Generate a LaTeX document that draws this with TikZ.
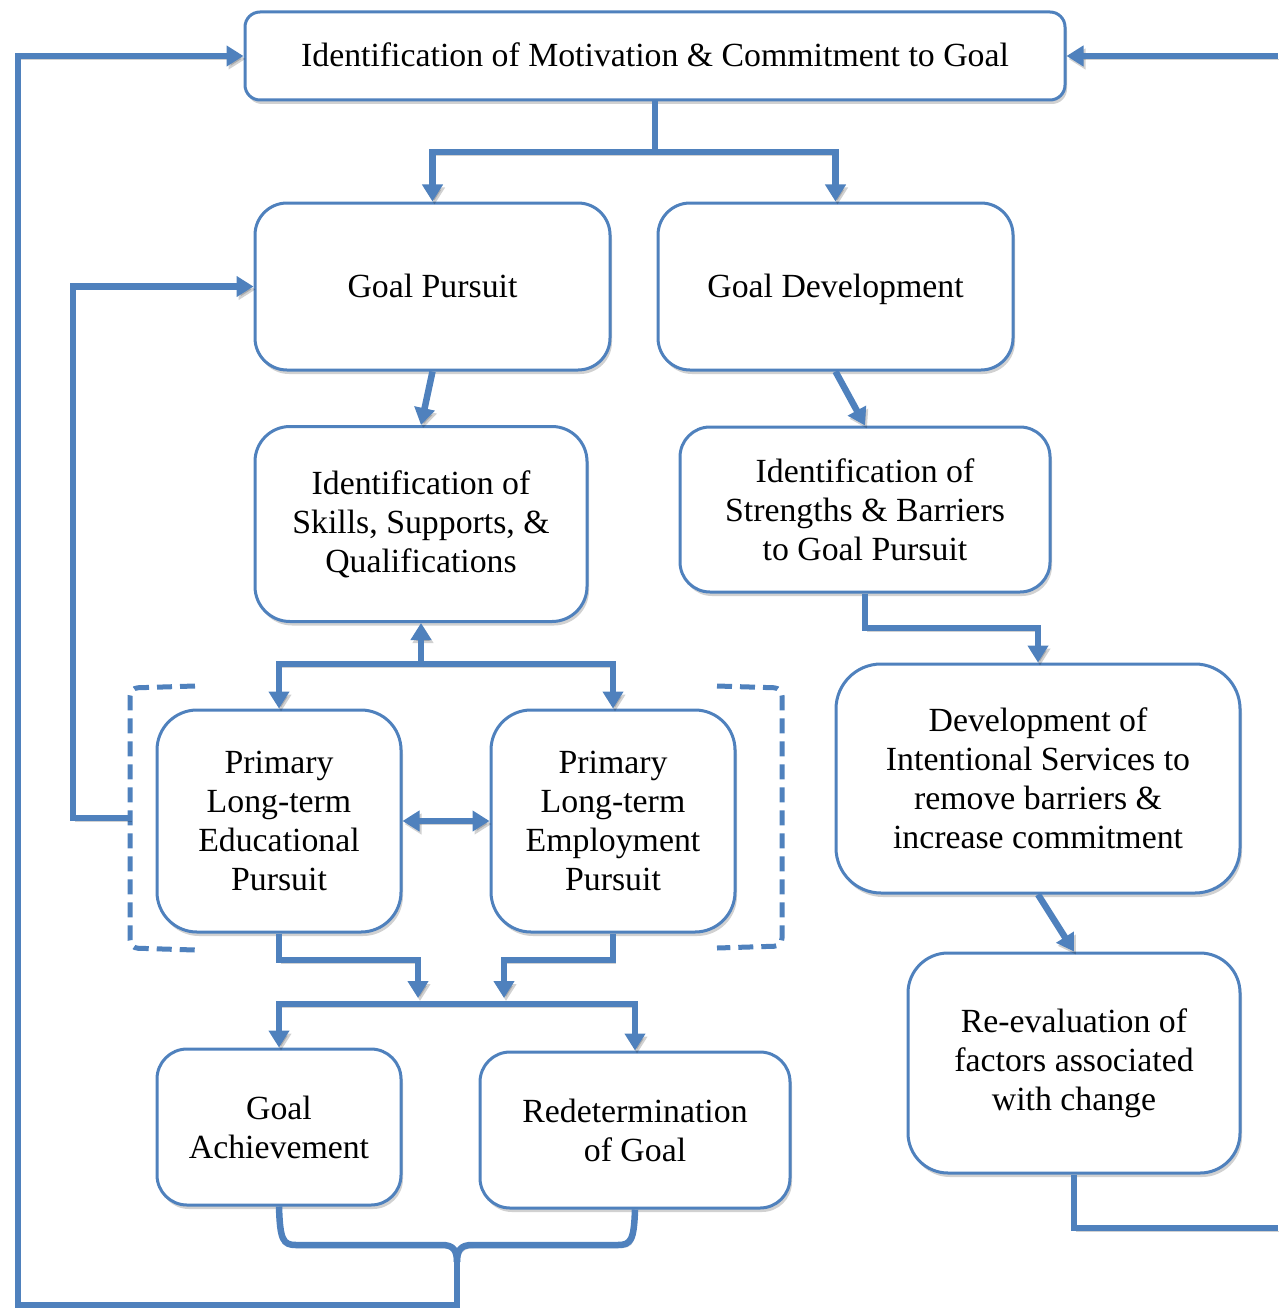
\documentclass[tikz,border=0pt]{standalone}
\usepackage{fontspec}
\setmainfont{Liberation Serif}
\usetikzlibrary{arrows.meta,shadows,calc}
\definecolor{flowblue}{HTML}{4F81BD}
\begin{document}
\begin{tikzpicture}[x=1pt,y=-1pt,
  flowbox/.style={draw=flowblue, line width=3pt, fill=white, rounded corners=#1,
    align=center, inner sep=0pt, font=\fontsize{33.8}{39}\selectfont,
    drop shadow={shadow xshift=2pt, shadow yshift=-4pt, opacity=0.3, fill=black!60}},
  flowbox/.default=30pt,
  oneline/.style={text height=23pt, text depth=1pt},
  link/.style={draw=flowblue, line width=6.5pt, line join=miter,
    preaction={draw=black, opacity=0.18, transform canvas={xshift=2pt,yshift=-3pt}}},
  arr/.style={link, -{Triangle[length=17pt,width=20pt]}},
  twoway/.style={link, {Triangle[length=17pt,width=20pt]}-{Triangle[length=17pt,width=20pt]}},
  bracket/.style={draw=flowblue, line width=5pt, dash pattern=on 15pt off 8pt, rounded corners=8pt}
]
\useasboundingbox (0,0) rectangle (1278,1308);

% boxes
\node[flowbox=15pt, oneline, minimum width=820pt, minimum height=88pt] (top) at (655,56)
  {Identification of Motivation \& Commitment to Goal};
\node[flowbox=32pt, oneline, minimum width=355pt, minimum height=167pt] (gp) at (432.5,286.5) {Goal Pursuit};
\node[flowbox=32pt, oneline, minimum width=355pt, minimum height=167pt] (gd) at (835.5,286.5) {Goal Development};
\node[flowbox=35pt, minimum width=332pt, minimum height=195pt] (sk) at (421,524)
  {Identification of\\Skills, Supports, \&\\Qualifications};
\node[flowbox=30pt, minimum width=370pt, minimum height=165pt] (st) at (865,509.5)
  {Identification of\\Strengths \& Barriers\\to Goal Pursuit};
\node[flowbox=40pt, minimum width=244pt, minimum height=222pt] (ed) at (279,821)
  {Primary\\Long-term\\Educational\\Pursuit};
\node[flowbox=40pt, minimum width=244pt, minimum height=222pt] (em) at (613,821)
  {Primary\\Long-term\\Employment\\Pursuit};
\node[flowbox=45pt, minimum width=404pt, minimum height=229pt] (dv) at (1038,778.5)
  {Development of\\Intentional Services to\\remove barriers \&\\increase commitment};
\node[flowbox=40pt, minimum width=332pt, minimum height=220pt] (re) at (1074,1063)
  {Re-evaluation of\\factors associated\\with change};
\node[flowbox=30pt, minimum width=244pt, minimum height=156pt] (ga) at (279,1127)
  {Goal\\Achievement};
\node[flowbox=30pt, minimum width=310pt, minimum height=156pt] (rd) at (635,1130)
  {Redetermination\\of Goal};

% junction and free-end points
\coordinate (jTop) at (655,152);
\coordinate (jSk) at (421,664);
\coordinate (lb) at (130,818);
\coordinate (mA) at (418,998);
\coordinate (mB) at (504,998);
\coordinate (jG) at (457,1004);
\coordinate (tip) at (457,1262);
\coordinate (exitR) at (1278,1228);
\coordinate (entryR) at (1278,56);

% top split
\draw[link] (top.south) -- (jTop);
\draw[arr] (jTop) -| (gp.north);
\draw[arr] (jTop) -| (gd.north);

% pursuit branch
\draw[arr] (gp.south) -- (sk.north);
\draw[arr] (jSk) -- (sk.south);
\draw[arr] (jSk) -| (ed.north);
\draw[arr] (jSk) -| (em.north);
\draw[twoway] (ed.east) -- (em.west);

% dashed brackets round the two pursuits
\draw[bracket] (195,686) -- (130,688) -- (130,948) -- (195,950);
\draw[bracket] (717,686) -- (782,688) -- (782,946) -- (717,948);

% loop back to goal pursuit
\draw[arr] (lb) -- (73,818) |- (gp.west);

% outcomes
\draw[arr] (ed.south) -- (ed.south |- 0,960) -| (mA);
\draw[arr] (em.south) -- (em.south |- 0,960) -| (mB);
\draw[arr] (jG) -| (ga.north);
\draw[arr] (jG) -| (rd.north);

% development branch
\draw[arr] (gd.south) -- (st.north);
\draw[arr] (st.south) -- (st.south |- 0,628) -| (dv.north);
\draw[arr] (dv.south) -- (re.north);
\draw[link] (re.south) |- (exitR);
\draw[arr] (entryR) -- (top.east);

% brace joining the outcomes and the return loop
\draw[link] (ga.south) .. controls (280,1240) and (283,1245) .. (296,1245) -- (442,1245)
  .. controls (453,1245) and (457,1250) .. (tip);
\draw[link] (rd.south) .. controls (634,1240) and (631,1245) .. (618,1245) -- (472,1245)
  .. controls (461,1245) and (457,1250) .. (tip);
\draw[arr] (tip) -- (457,1305) -| (18,56) -- (top.west);
\end{tikzpicture}
\end{document}
